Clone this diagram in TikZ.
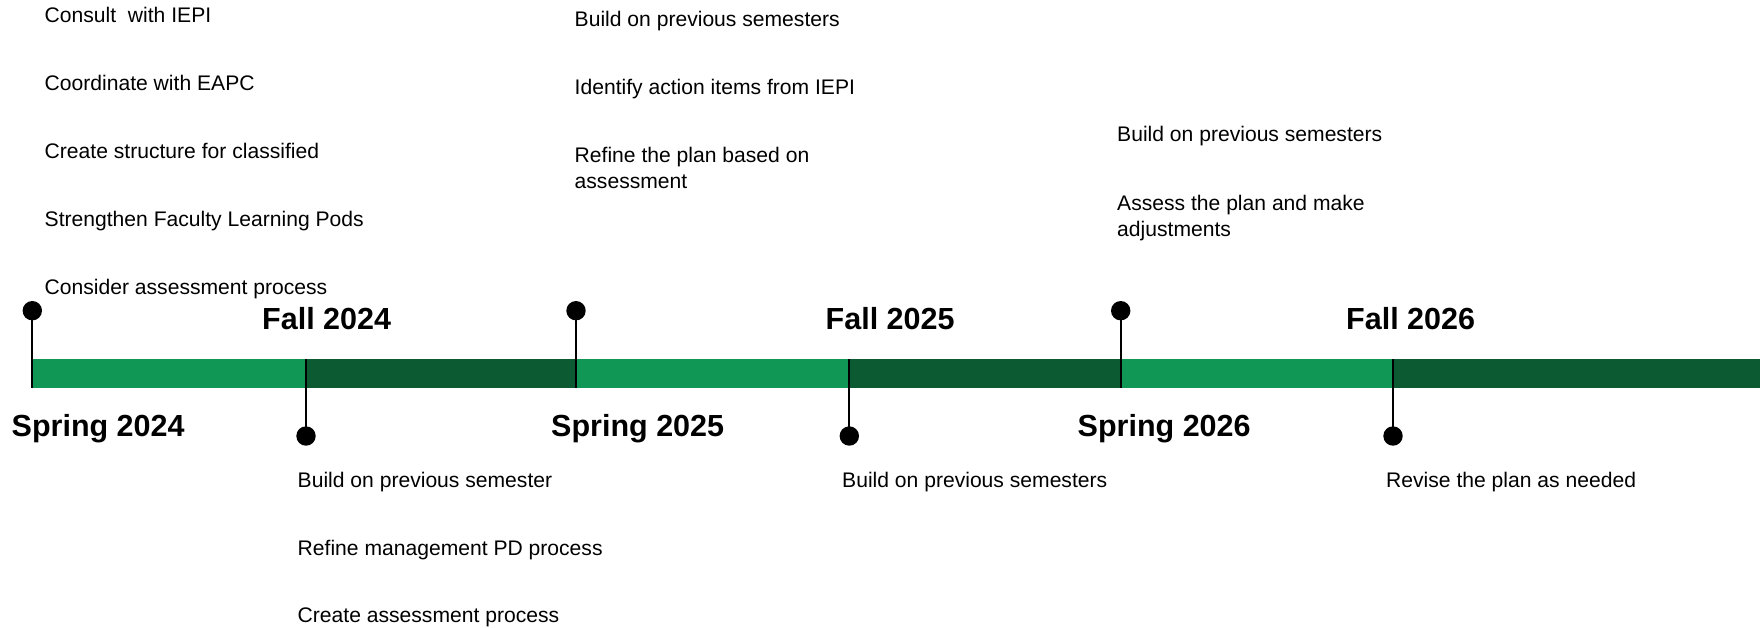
\documentclass[tikz,border=0pt]{standalone}
\usepackage{fontspec}
\setmainfont{Liberation Sans}
\definecolor{lg}{HTML}{109756}
\definecolor{dg}{HTML}{0B5A32}
\newcommand{\twoline}[2]{\parbox[t]{10cm}{\raggedright #1\\#2}}
\begin{document}
\begin{tikzpicture}[x=1pt,y=-1pt,
  item/.style={anchor=base west, inner sep=0pt, font=\fontsize{21.1}{26}\selectfont},
  head/.style={anchor=base west, inner sep=0pt, font=\fontsize{30.5}{34}\selectfont\bfseries},
  dot/.style={circle, fill=black, inner sep=0pt, minimum size=19.4pt},
  tickline/.style={line width=2pt, black}]
\useasboundingbox (0,0) rectangle (1760,627);
% bar segments
\fill[lg] (32.3,359) rectangle (306,387.7);
\fill[dg] (306,359) rectangle (576,387.7);
\fill[lg] (576,359) rectangle (849.3,387.7);
\fill[dg] (849.3,359) rectangle (1120.7,387.7);
\fill[lg] (1120.7,359) rectangle (1393,387.7);
\fill[dg] (1393,359) rectangle (1760,387.7);
% upper ticks
\node[dot] (u1) at (32.3,310.7) {};
\node[dot] (u2) at (576,310.7) {};
\node[dot] (u3) at (1120.7,310.7) {};
\coordinate (u1b) at (32.3,387.7);
\coordinate (u2b) at (576,387.7);
\coordinate (u3b) at (1120.7,387.7);
\draw[tickline] (u1.center) -- (u1b);
\draw[tickline] (u2.center) -- (u2b);
\draw[tickline] (u3.center) -- (u3b);
% lower ticks
\node[dot] (l1) at (306,436) {};
\node[dot] (l2) at (849.3,436) {};
\node[dot] (l3) at (1393,436) {};
\coordinate (l1t) at (306,359);
\coordinate (l2t) at (849.3,359);
\coordinate (l3t) at (1393,359);
\draw[tickline] (l1t) -- (l1.center);
\draw[tickline] (l2t) -- (l2.center);
\draw[tickline] (l3t) -- (l3.center);
% headings
\node[head] (f24) at (262,329) {Fall 2024};
\node[head] (f25) at (825.5,329) {Fall 2025};
\node[head] (f26) at (1346,329) {Fall 2026};
\node[head] (s24) at (11.5,436.5) {Spring 2024};
\node[head] (s25) at (551,436.5) {Spring 2025};
\node[head] (s26) at (1077.5,436.5) {Spring 2026};
% column 1
\node[item] (a1) at (44.5,22.3) {Consult\ \ with IEPI};
\node[item] (a2) at (44.5,90.4) {Coordinate with EAPC};
\node[item] (a3) at (44.5,158.5) {Create structure for classified};
\node[item] (a4) at (44.5,226.6) {Strengthen Faculty Learning Pods};
\node[item] (a5) at (44.5,294.7) {Consider assessment process};
% column 2
\node[item] (b1) at (574.5,26.9) {Build on previous semesters};
\node[item] (b2) at (574.5,94.6) {Identify action items from IEPI};
\node[item] (b3) at (574.5,162.3) {\twoline{Refine the plan based on}{assessment}};
% column 3
\node[item] (c1) at (1117,141) {Build on previous semesters};
\node[item] (c2) at (1117,210) {\twoline{Assess the plan and make}{adjustments}};
% lower columns
\node[item] (d1) at (297.5,487.5) {Build on previous semester};
\node[item] (d2) at (297.5,555) {Refine management PD process};
\node[item] (d3) at (297.5,622.5) {Create assessment process};
\node[item] (e1) at (842,487.5) {Build on previous semesters};
\node[item] (g1) at (1386,487.5) {Revise the plan as needed};
\end{tikzpicture}
\end{document}
